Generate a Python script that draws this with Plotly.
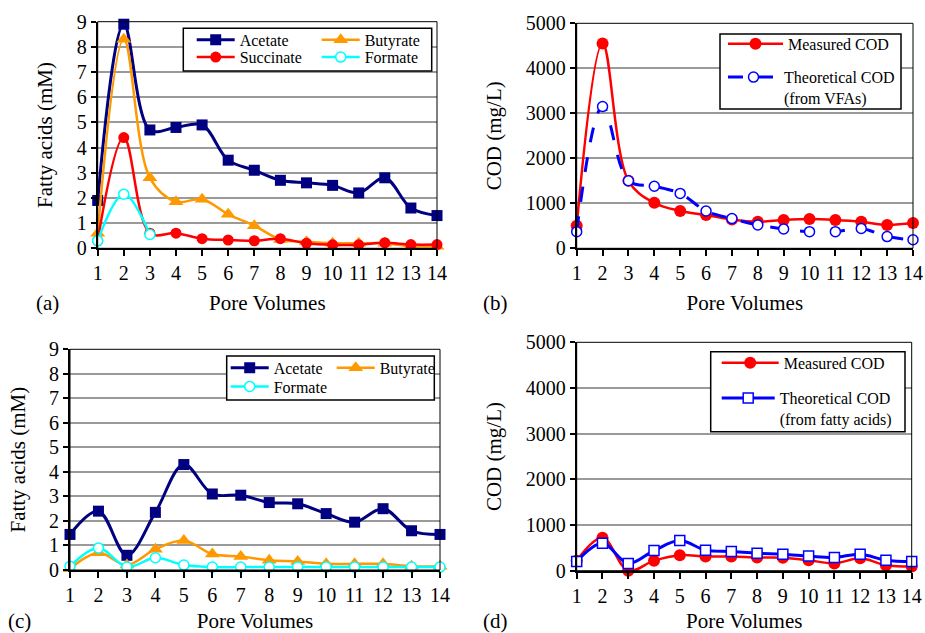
import plotly.graph_objects as go

# ---------------- data ----------------
pore_volumes = list(range(1, 15))
x_ticks = list(range(1, 15))

a_acetate = [1.9, 8.9, 4.7, 4.8, 4.9, 3.5, 3.1, 2.7, 2.6, 2.5, 2.2, 2.8, 1.6, 1.3]
a_butyrate = [0.6, 8.3, 2.8, 1.85, 1.95, 1.35, 0.9, 0.35, 0.26, 0.2, 0.2, 0.2, 0.08, 0.08]
a_succinate = [0.3, 4.4, 0.6, 0.6, 0.38, 0.33, 0.3, 0.38, 0.2, 0.14, 0.14, 0.22, 0.15, 0.15]
a_formate_pv = [1, 2, 3]
a_formate = [0.3, 2.15, 0.55]

b_measured = [500, 4550, 1500, 1010, 830, 740, 640, 590, 630, 650, 630, 590, 520, 560]
b_theoretical = [370, 3150, 1500, 1380, 1220, 830, 660, 520, 430, 370, 370, 440, 260, 190]

c_acetate = [1.45, 2.4, 0.6, 2.35, 4.3, 3.1, 3.05, 2.75, 2.7, 2.3, 1.95, 2.5, 1.6, 1.45]
c_butyrate = [0.05, 0.7, 0.2, 0.85, 1.2, 0.65, 0.55, 0.4, 0.35, 0.25, 0.25, 0.25, 0.15, 0.15]
c_formate = [0.15, 0.9, 0.12, 0.5, 0.2, 0.12, 0.12, 0.12, 0.12, 0.12, 0.12, 0.12, 0.12, 0.12]

d_measured = [220, 720, 0, 220, 340, 310, 310, 290, 285, 230, 160, 270, 120, 90]
d_theoretical = [200, 600, 160, 440, 660, 450, 420, 380, 360, 320, 290, 360, 230, 200]

# ---------------- styling ----------------
W, H = 925, 633
FONT = "Liberation Serif"
NAVY, ORANGE, RED, CYAN, BLUE = "#000080", "#FF9900", "#FF0000", "#00FFFF", "#0000FF"


def px_x(p):
    return p / W


def px_y(p):
    return 1 - p / H


fig = go.Figure()
legend_specs = []  # (line_start_px, row_center_px, itemwidth)


def add(x, y, name, color, symbol, msize, lw, xa, ya, leg, dash="solid", open_=False):
    n = len(legend_specs) + 1
    legend_specs.append(leg)
    fig.add_trace(go.Scatter(
        x=x, y=y, name=name, mode="lines+markers",
        line=dict(color=color, width=lw, shape="spline", smoothing=1, dash=dash),
        marker=dict(symbol=symbol, size=msize, color="white" if open_ else color,
                    line=dict(color=color, width=1.5 if open_ else 0)),
        xaxis=xa, yaxis=ya, legend="legend" if n == 1 else "legend%d" % n,
        cliponaxis=False,
    ))


# (a)
add(pore_volumes, a_acetate, "Acetate", NAVY, "square", 11, 3, "x", "y", (196.7, 39.3, 38))
add(pore_volumes, a_butyrate, "Butyrate", ORANGE, "triangle-up", 13, 2.5, "x", "y", (321.7, 39.3, 38))
add(pore_volumes, a_succinate, "Succinate", RED, "circle", 11, 2.5, "x", "y", (196.7, 56.7, 38))
add(a_formate_pv, a_formate, "Formate", CYAN, "circle", 10, 2.5, "x", "y", (321.7, 56.7, 38), open_=True)
# (b)
add(pore_volumes, b_measured, "Measured COD", RED, "circle", 12, 2.5, "x2", "y2", (728, 43.3, 55))
add(pore_volumes, b_theoretical, "Theoretical COD<br>(from VFAs)", BLUE, "circle", 10, 3, "x2", "y2",
    (728, 76.7, 51), dash="longdash", open_=True)
# (c)
add(pore_volumes, c_acetate, "Acetate", NAVY, "square", 11, 3, "x3", "y3", (230.7, 367.3, 38))
add(pore_volumes, c_butyrate, "Butyrate", ORANGE, "triangle-up", 13, 2.5, "x3", "y3", (336.7, 367.3, 38))
add(pore_volumes, c_formate, "Formate", CYAN, "circle", 10, 2.5, "x3", "y3", (230.7, 386, 38), open_=True)
# (d)
add(pore_volumes, d_measured, "Measured COD", RED, "circle", 12, 2.5, "x4", "y4", (721.7, 362.3, 57))
add(pore_volumes, d_theoretical, "Theoretical COD<br>(from fatty acids)", BLUE, "square", 10, 3, "x4", "y4",
    (721.7, 397.7, 53), open_=True)

# plot-area boxes (pixels: left, right, top, bottom)
boxes = {
    "": (97.7, 437.0, 21.7, 248.3),
    "2": (576.7, 913.0, 23.3, 248.3),
    "3": (70.0, 440.0, 349.3, 570.0),
    "4": (576.7, 911.7, 342.3, 570.7),
}
yranges = {"": [0, 9], "2": [0, 5000], "3": [0, 9], "4": [0, 5000]}
ydticks = {"": 1, "2": 1000, "3": 1, "4": 1000}
ytitles = {"": "Fatty acids (mM)", "2": "COD (mg/L)", "3": "Fatty acids (mM)", "4": "COD (mg/L)"}

layout = dict(
    width=W, height=H, margin=dict(l=0, r=0, t=0, b=0),
    paper_bgcolor="white", plot_bgcolor="white",
    font=dict(family=FONT, size=20, color="black"),
    showlegend=True,
)
shapes = []
for k, (l, r, t, b) in boxes.items():
    layout["xaxis" + k] = dict(
        domain=[px_x(l), px_x(r)], range=[1, 14], tickmode="array", tickvals=x_ticks,
        ticks="outside", ticklen=6, tickwidth=1.5, tickcolor="black",
        showline=True, linewidth=2, linecolor="black", showgrid=False, zeroline=False,
        tickfont=dict(family=FONT, size=20), automargin=False,
        title=dict(text="Pore Volumes", font=dict(family=FONT, size=21), standoff=12),
        anchor="y" + k,
    )
    layout["yaxis" + k] = dict(
        domain=[px_y(b), px_y(t)], range=yranges[k], dtick=ydticks[k], tick0=0,
        ticks="outside", ticklen=5, tickwidth=1.5, tickcolor="black",
        showline=True, linewidth=2, linecolor="black", showgrid=True,
        gridcolor="#9a9a9a", gridwidth=1.5, zeroline=False,
        tickfont=dict(family=FONT, size=20), automargin=False,
        title=dict(text=ytitles[k], font=dict(family=FONT, size=21), standoff=18),
        anchor="x" + k,
    )
    shapes.append(dict(type="rect", xref=("x" + k) + " domain", yref=("y" + k) + " domain",
                       x0=0, x1=1, y0=0, y1=1, line=dict(color="black", width=1), layer="above"))

# legend frames
for (l, r, t, b) in [(183.3, 431.7, 28.3, 71), (720, 901, 34, 109),
                     (226.7, 434.3, 356, 400), (710.7, 905, 351.7, 431.7)]:
    shapes.append(dict(type="rect", xref="paper", yref="paper", x0=px_x(l), x1=px_x(r),
                       y0=px_y(b), y1=px_y(t), line=dict(color="black", width=1.5),
                       fillcolor="white", layer="above"))
layout["shapes"] = shapes

for i, (lx, cy, iw) in enumerate(legend_specs, start=1):
    key = "legend" if i == 1 else "legend%d" % i
    layout[key] = dict(bgcolor="rgba(0,0,0,0)", borderwidth=0, font=dict(family=FONT, size=16),
                       xanchor="left", yanchor="top", orientation="v", itemwidth=iw, valign="top",
                       x=px_x(lx - 5), y=px_y(cy - 16.5))

anns = []
for txt, x, y in [("(a)", 47, 303), ("(b)", 496, 303), ("(c)", 19, 621), ("(d)", 496, 621)]:
    anns.append(dict(text=txt, x=px_x(x), y=px_y(y), xref="paper", yref="paper",
                     showarrow=False, font=dict(family=FONT, size=21), xanchor="center", yanchor="middle"))
layout["annotations"] = anns

fig.update_layout(**layout)
fig.write_html("out.html", config={"displayModeBar": False},
               post_script="document.body.style.margin='0';document.body.style.overflow='hidden';")
